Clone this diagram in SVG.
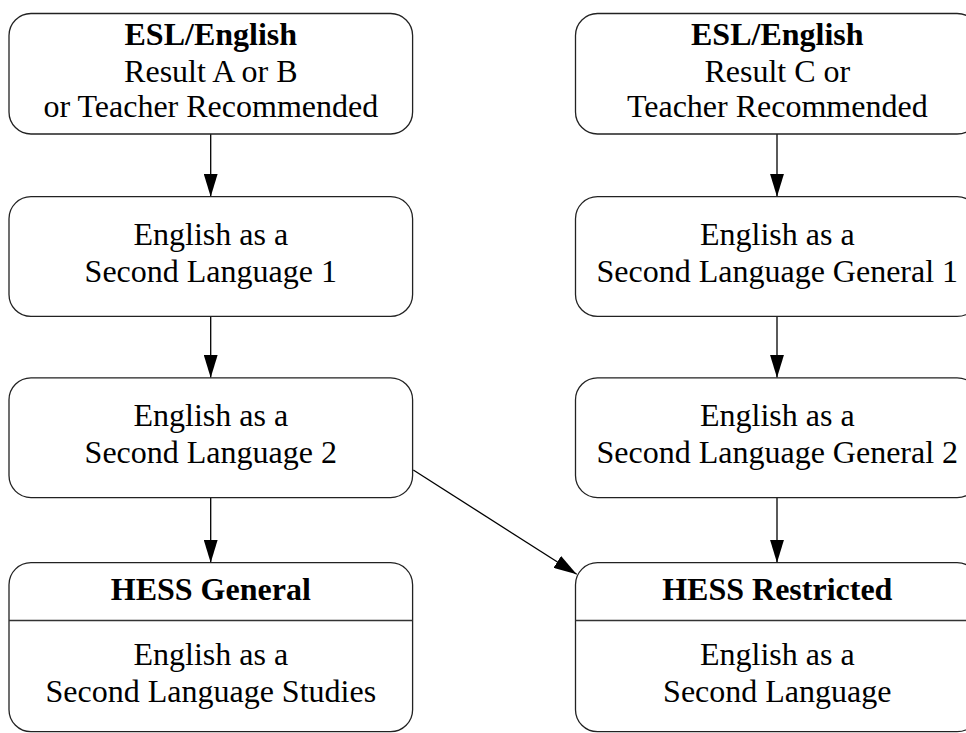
<svg xmlns="http://www.w3.org/2000/svg" width="966" height="733" viewBox="0 0 966 733">
<style>
.box{fill:#fff;stroke:#222;stroke-width:1.3}
.div{stroke:#333;stroke-width:1.3}
.t{font-family:"Liberation Serif","Times New Roman",serif;font-size:32px;fill:#000;text-anchor:middle}
.b{font-weight:bold}
.c{stroke:#000;stroke-width:1.3;fill:none}
</style>
<defs>
<marker id="ah" markerUnits="userSpaceOnUse" markerWidth="24" markerHeight="14" refX="23" refY="7" orient="auto">
<path d="M0,0 L23,7 L0,14 z" fill="#000"/>
</marker>
</defs>
<rect width="966" height="733" fill="#fff"/>
<g id="connectors">
<line class="c" x1="210.7" y1="134" x2="210.7" y2="196.7" marker-end="url(#ah)"/>
<line class="c" x1="210.7" y1="316.4" x2="210.7" y2="377.8" marker-end="url(#ah)"/>
<line class="c" x1="210.7" y1="497.6" x2="210.7" y2="562.7" marker-end="url(#ah)"/>
<line class="c" x1="777" y1="134" x2="777" y2="196.7" marker-end="url(#ah)"/>
<line class="c" x1="777" y1="316.4" x2="777" y2="377.8" marker-end="url(#ah)"/>
<line class="c" x1="777" y1="497.6" x2="777" y2="562.7" marker-end="url(#ah)"/>
<line class="c" x1="413.3" y1="470" x2="576.7" y2="574.3" marker-end="url(#ah)"/>
</g>
<g id="n1">
<rect class="box" x="9" y="13.5" width="403.6" height="120.5" rx="22"/>
<text class="t b" x="210.8" y="45">ESL/English</text>
<text class="t" x="210.8" y="81.5">Result A or B</text>
<text class="t" x="210.8" y="117">or Teacher Recommended</text>
</g>
<g id="n2">
<rect class="box" x="9" y="196.7" width="403.6" height="119.7" rx="22"/>
<text class="t" x="210.8" y="245">English as a</text>
<text class="t" x="210.8" y="281.7">Second Language 1</text>
</g>
<g id="n3">
<rect class="box" x="9" y="377.8" width="403.6" height="119.8" rx="22"/>
<text class="t" x="210.8" y="426">English as a</text>
<text class="t" x="210.8" y="462.8">Second Language 2</text>
</g>
<g id="n4">
<rect class="box" x="9" y="562.7" width="403.6" height="169" rx="22"/>
<line class="div" x1="9" y1="620.5" x2="412.6" y2="620.5"/>
<text class="t b" x="210.8" y="600">HESS General</text>
<text class="t" x="210.8" y="665">English as a</text>
<text class="t" x="210.8" y="701.7">Second Language Studies</text>
</g>
<g id="n5">
<rect class="box" x="575.5" y="13.5" width="403.6" height="120.5" rx="22"/>
<text class="t b" x="777.3" y="45">ESL/English</text>
<text class="t" x="777.3" y="81.5">Result C or</text>
<text class="t" x="777.3" y="117">Teacher Recommended</text>
</g>
<g id="n6">
<rect class="box" x="575.5" y="196.7" width="403.6" height="119.7" rx="22"/>
<text class="t" x="777.3" y="245">English as a</text>
<text class="t" x="777.3" y="281.7">Second Language General 1</text>
</g>
<g id="n7">
<rect class="box" x="575.5" y="377.8" width="403.6" height="119.8" rx="22"/>
<text class="t" x="777.3" y="426">English as a</text>
<text class="t" x="777.3" y="462.8">Second Language General 2</text>
</g>
<g id="n8">
<rect class="box" x="575.5" y="562.7" width="403.6" height="169" rx="22"/>
<line class="div" x1="575.5" y1="620.5" x2="979" y2="620.5"/>
<text class="t b" x="777.3" y="600">HESS Restricted</text>
<text class="t" x="777.3" y="665">English as a</text>
<text class="t" x="777.3" y="701.7">Second Language</text>
</g>
</svg>
